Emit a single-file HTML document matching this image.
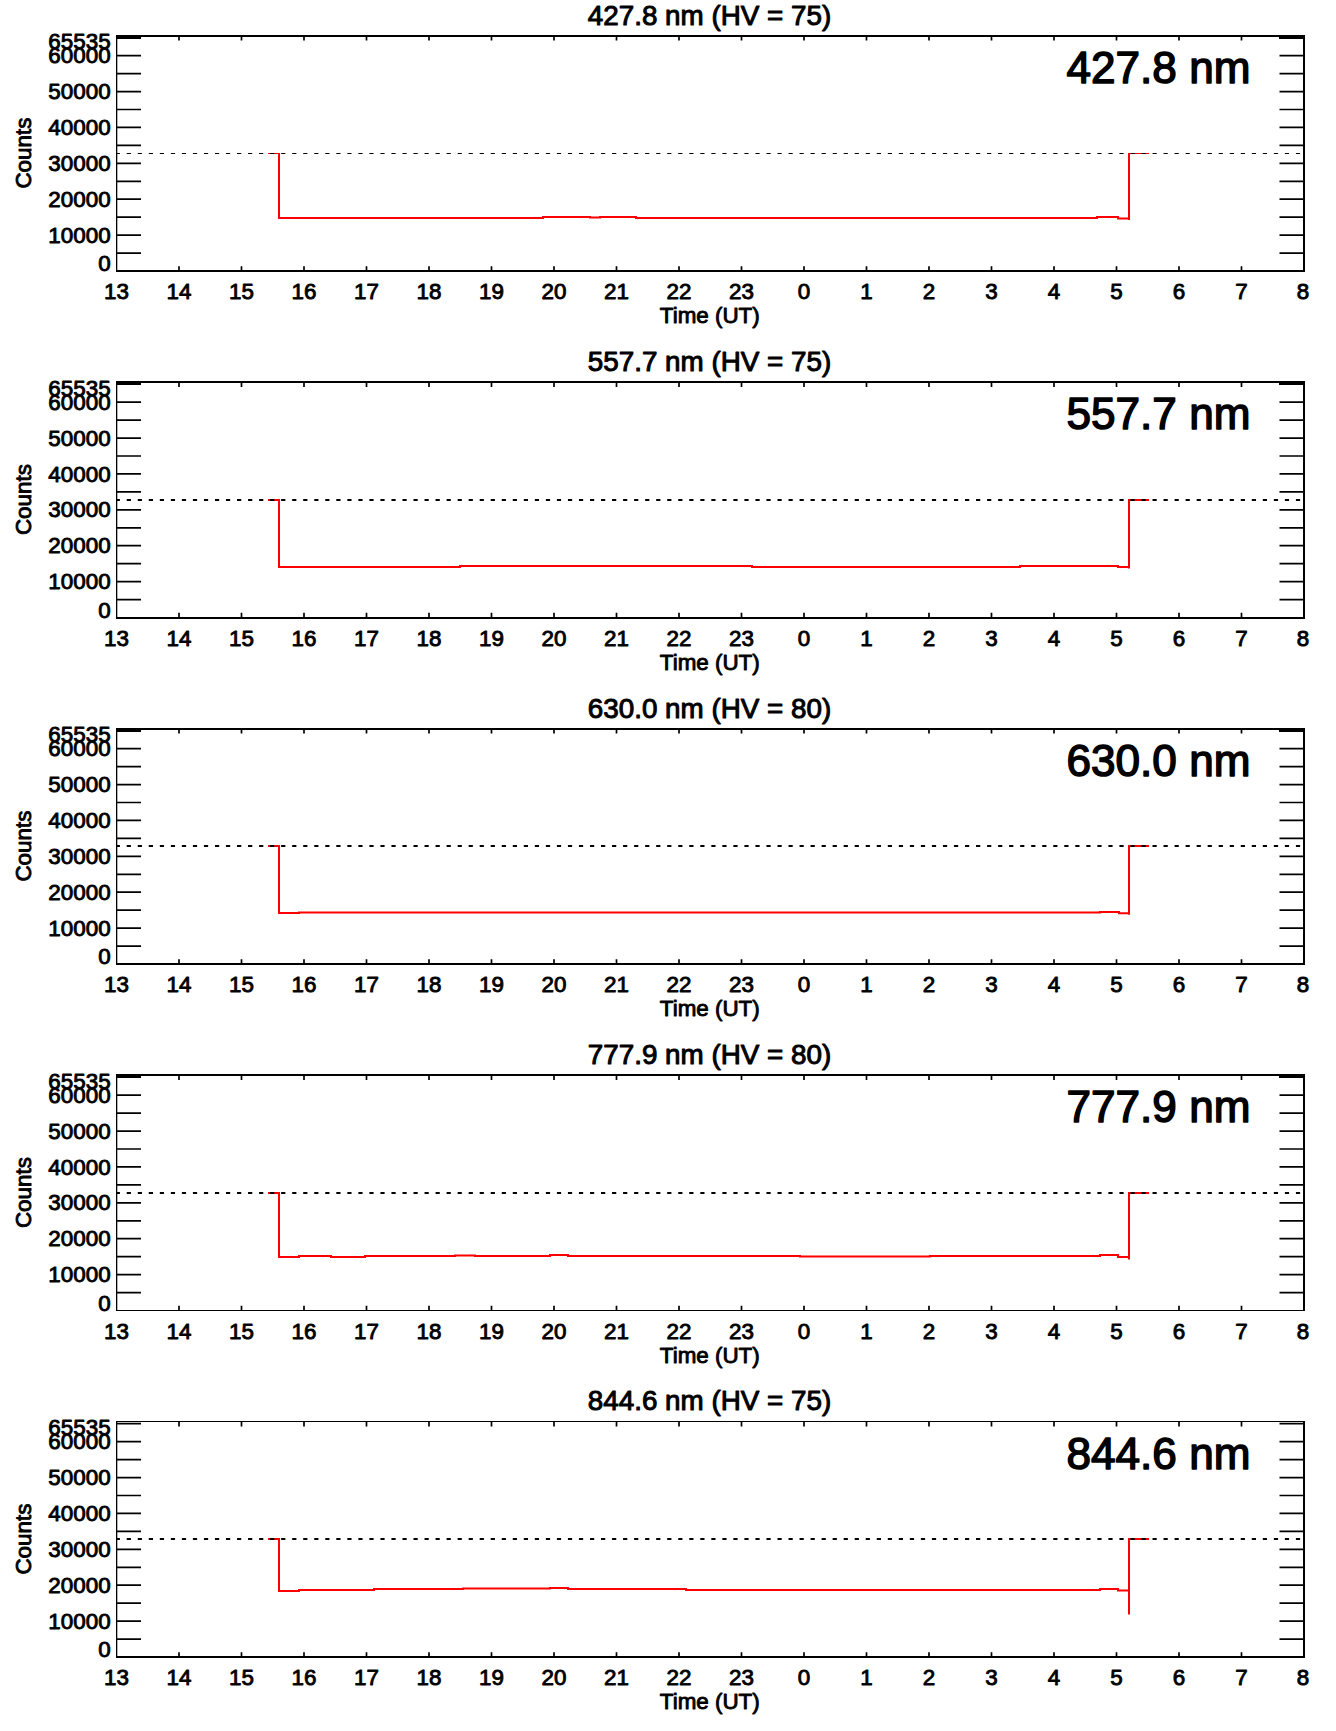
<!DOCTYPE html>
<html lang="en"><head><meta charset="utf-8"><title>Photometer counts</title>
<style>html,body{margin:0;padding:0;background:#fff}svg{display:block}text{font-family:"Liberation Sans",Helvetica,Arial,sans-serif;fill:#000;stroke:#000;stroke-linejoin:round}.t{font-size:22.4px;stroke-width:.9px}.h{font-size:27.8px;stroke-width:1px}.b{font-size:44.1px;stroke-width:1.5px}.k{stroke:#000;fill:none}</style></head><body>
<svg width="1336" height="1731" viewBox="0 0 1336 1731">
<rect width="1336" height="1731" fill="#fff"/>
<g>
<text class="h" transform="translate(709.50 25.00)" text-anchor="middle">427.8 nm (HV = 75)</text>
<path d="M279.0 153.0L279.0 218.0L543.0 218.0L543.0 217.0L590.0 217.0L590.0 217.6L600.0 217.6L600.0 217.0L636.0 217.0L636.0 218.0L1097.0 218.0L1097.0 217.0L1118.0 217.0L1118.0 218.4L1129.0 218.4L1129.0 220.0L1129.0 153.0" fill="none" stroke="#f00" stroke-width="2" stroke-linejoin="miter"/>
<path d="M268 153.5H280M1128 153.5H1149" fill="none" stroke="#f00" stroke-width="1"/>
<line x1="116.5" y1="153.5" x2="1304.0" y2="153.5" stroke="#000" stroke-width="1" stroke-dasharray="4.2 6.83" stroke-dashoffset="0.8"/>
<path class="k" d="M116.5 253.06h24.5M1304.0 253.06h-24.5M116.5 235.11h24.5M1304.0 235.11h-24.5M116.5 217.17h24.5M1304.0 217.17h-24.5M116.5 199.22h24.5M1304.0 199.22h-24.5M116.5 181.28h24.5M1304.0 181.28h-24.5M116.5 163.33h24.5M1304.0 163.33h-24.5M116.5 145.39h24.5M1304.0 145.39h-24.5M116.5 127.44h24.5M1304.0 127.44h-24.5M116.5 109.50h24.5M1304.0 109.50h-24.5M116.5 91.55h24.5M1304.0 91.55h-24.5M116.5 73.61h24.5M1304.0 73.61h-24.5M116.5 55.66h24.5M1304.0 55.66h-24.5M116.5 37.72h24.5M1304.0 37.72h-24.5" stroke-width="1.7"/>
<path class="k" d="M179.00 271.00v-4.8M179.00 35.80v4.8M241.50 271.00v-4.8M241.50 35.80v4.8M304.00 271.00v-4.8M304.00 35.80v4.8M366.50 271.00v-4.8M366.50 35.80v4.8M429.00 271.00v-4.8M429.00 35.80v4.8M491.50 271.00v-4.8M491.50 35.80v4.8M554.00 271.00v-4.8M554.00 35.80v4.8M616.50 271.00v-4.8M616.50 35.80v4.8M679.00 271.00v-4.8M679.00 35.80v4.8M741.50 271.00v-4.8M741.50 35.80v4.8M804.00 271.00v-4.8M804.00 35.80v4.8M866.50 271.00v-4.8M866.50 35.80v4.8M929.00 271.00v-4.8M929.00 35.80v4.8M991.50 271.00v-4.8M991.50 35.80v4.8M1054.00 271.00v-4.8M1054.00 35.80v4.8M1116.50 271.00v-4.8M1116.50 35.80v4.8M1179.00 271.00v-4.8M1179.00 35.80v4.8M1241.50 271.00v-4.8M1241.50 35.80v4.8" stroke-width="1.7"/>
<rect x="116" y="35" width="1.3" height="237"/>
<rect x="1303" y="35" width="2" height="237"/>
<rect x="116" y="35" width="1189" height="2"/>
<rect x="116" y="270" width="1189" height="2"/>
<rect x="116" y="35" width="25" height="4"/><rect x="1279" y="35" width="25" height="4"/>
<text class="t" transform="translate(110.60 242.71)" text-anchor="end">10000</text>
<text class="t" transform="translate(110.60 206.82)" text-anchor="end">20000</text>
<text class="t" transform="translate(110.60 170.93)" text-anchor="end">30000</text>
<text class="t" transform="translate(110.60 135.04)" text-anchor="end">40000</text>
<text class="t" transform="translate(110.60 99.15)" text-anchor="end">50000</text>
<text class="t" transform="translate(110.60 63.26)" text-anchor="end">60000</text>
<text class="t" transform="translate(110.60 271.10)" text-anchor="end">0</text>
<text class="t" transform="translate(110.60 49.20)" text-anchor="end">65535</text>
<text class="t" transform="translate(116.50 299.10)" text-anchor="middle">13</text>
<text class="t" transform="translate(179.00 299.10)" text-anchor="middle">14</text>
<text class="t" transform="translate(241.50 299.10)" text-anchor="middle">15</text>
<text class="t" transform="translate(304.00 299.10)" text-anchor="middle">16</text>
<text class="t" transform="translate(366.50 299.10)" text-anchor="middle">17</text>
<text class="t" transform="translate(429.00 299.10)" text-anchor="middle">18</text>
<text class="t" transform="translate(491.50 299.10)" text-anchor="middle">19</text>
<text class="t" transform="translate(554.00 299.10)" text-anchor="middle">20</text>
<text class="t" transform="translate(616.50 299.10)" text-anchor="middle">21</text>
<text class="t" transform="translate(679.00 299.10)" text-anchor="middle">22</text>
<text class="t" transform="translate(741.50 299.10)" text-anchor="middle">23</text>
<text class="t" transform="translate(804.00 299.10)" text-anchor="middle">0</text>
<text class="t" transform="translate(866.50 299.10)" text-anchor="middle">1</text>
<text class="t" transform="translate(929.00 299.10)" text-anchor="middle">2</text>
<text class="t" transform="translate(991.50 299.10)" text-anchor="middle">3</text>
<text class="t" transform="translate(1054.00 299.10)" text-anchor="middle">4</text>
<text class="t" transform="translate(1116.50 299.10)" text-anchor="middle">5</text>
<text class="t" transform="translate(1179.00 299.10)" text-anchor="middle">6</text>
<text class="t" transform="translate(1241.50 299.10)" text-anchor="middle">7</text>
<text class="t" transform="translate(1303.00 299.10)" text-anchor="middle">8</text>
<text class="t" transform="translate(709.80 323.20)" text-anchor="middle">Time (UT)</text>
<text class="t" transform="translate(31.40 153.10) rotate(-90)" text-anchor="middle">Counts</text>
<text class="b" transform="translate(1250.40 82.60)" text-anchor="end">427.8 nm</text>
</g>
<g>
<text class="h" transform="translate(709.50 371.25)" text-anchor="middle">557.7 nm (HV = 75)</text>
<path d="M279.0 499.0L279.0 567.0L460.0 567.0L460.0 566.0L752.0 566.0L752.0 567.0L1020.0 567.0L1020.0 566.0L1118.0 566.0L1118.0 567.0L1129.0 567.0L1129.0 568.5L1129.0 499.0" fill="none" stroke="#f00" stroke-width="2" stroke-linejoin="miter"/>
<path d="M268 500.0H280M1128 500.0H1149" fill="none" stroke="#f00" stroke-width="2"/>
<line x1="116.5" y1="500.0" x2="1304.0" y2="500.0" stroke="#000" stroke-width="2" stroke-dasharray="4.2 6.83" stroke-dashoffset="0.8"/>
<path class="k" d="M116.5 599.56h24.5M1304.0 599.56h-24.5M116.5 581.61h24.5M1304.0 581.61h-24.5M116.5 563.67h24.5M1304.0 563.67h-24.5M116.5 545.72h24.5M1304.0 545.72h-24.5M116.5 527.78h24.5M1304.0 527.78h-24.5M116.5 509.83h24.5M1304.0 509.83h-24.5M116.5 491.89h24.5M1304.0 491.89h-24.5M116.5 473.94h24.5M1304.0 473.94h-24.5M116.5 456.00h24.5M1304.0 456.00h-24.5M116.5 438.05h24.5M1304.0 438.05h-24.5M116.5 420.11h24.5M1304.0 420.11h-24.5M116.5 402.16h24.5M1304.0 402.16h-24.5M116.5 384.22h24.5M1304.0 384.22h-24.5" stroke-width="1.7"/>
<path class="k" d="M179.00 617.50v-4.8M179.00 382.30v4.8M241.50 617.50v-4.8M241.50 382.30v4.8M304.00 617.50v-4.8M304.00 382.30v4.8M366.50 617.50v-4.8M366.50 382.30v4.8M429.00 617.50v-4.8M429.00 382.30v4.8M491.50 617.50v-4.8M491.50 382.30v4.8M554.00 617.50v-4.8M554.00 382.30v4.8M616.50 617.50v-4.8M616.50 382.30v4.8M679.00 617.50v-4.8M679.00 382.30v4.8M741.50 617.50v-4.8M741.50 382.30v4.8M804.00 617.50v-4.8M804.00 382.30v4.8M866.50 617.50v-4.8M866.50 382.30v4.8M929.00 617.50v-4.8M929.00 382.30v4.8M991.50 617.50v-4.8M991.50 382.30v4.8M1054.00 617.50v-4.8M1054.00 382.30v4.8M1116.50 617.50v-4.8M1116.50 382.30v4.8M1179.00 617.50v-4.8M1179.00 382.30v4.8M1241.50 617.50v-4.8M1241.50 382.30v4.8" stroke-width="1.7"/>
<rect x="116" y="381" width="1.3" height="238"/>
<rect x="1303" y="381" width="2" height="238"/>
<rect x="116" y="381" width="1189" height="2"/>
<rect x="116" y="617" width="1189" height="2"/>
<rect x="116" y="381" width="25" height="4"/><rect x="1279" y="381" width="25" height="4"/>
<text class="t" transform="translate(110.60 589.21)" text-anchor="end">10000</text>
<text class="t" transform="translate(110.60 553.32)" text-anchor="end">20000</text>
<text class="t" transform="translate(110.60 517.43)" text-anchor="end">30000</text>
<text class="t" transform="translate(110.60 481.54)" text-anchor="end">40000</text>
<text class="t" transform="translate(110.60 445.65)" text-anchor="end">50000</text>
<text class="t" transform="translate(110.60 409.76)" text-anchor="end">60000</text>
<text class="t" transform="translate(110.60 617.60)" text-anchor="end">0</text>
<text class="t" transform="translate(110.60 395.70)" text-anchor="end">65535</text>
<text class="t" transform="translate(116.50 645.60)" text-anchor="middle">13</text>
<text class="t" transform="translate(179.00 645.60)" text-anchor="middle">14</text>
<text class="t" transform="translate(241.50 645.60)" text-anchor="middle">15</text>
<text class="t" transform="translate(304.00 645.60)" text-anchor="middle">16</text>
<text class="t" transform="translate(366.50 645.60)" text-anchor="middle">17</text>
<text class="t" transform="translate(429.00 645.60)" text-anchor="middle">18</text>
<text class="t" transform="translate(491.50 645.60)" text-anchor="middle">19</text>
<text class="t" transform="translate(554.00 645.60)" text-anchor="middle">20</text>
<text class="t" transform="translate(616.50 645.60)" text-anchor="middle">21</text>
<text class="t" transform="translate(679.00 645.60)" text-anchor="middle">22</text>
<text class="t" transform="translate(741.50 645.60)" text-anchor="middle">23</text>
<text class="t" transform="translate(804.00 645.60)" text-anchor="middle">0</text>
<text class="t" transform="translate(866.50 645.60)" text-anchor="middle">1</text>
<text class="t" transform="translate(929.00 645.60)" text-anchor="middle">2</text>
<text class="t" transform="translate(991.50 645.60)" text-anchor="middle">3</text>
<text class="t" transform="translate(1054.00 645.60)" text-anchor="middle">4</text>
<text class="t" transform="translate(1116.50 645.60)" text-anchor="middle">5</text>
<text class="t" transform="translate(1179.00 645.60)" text-anchor="middle">6</text>
<text class="t" transform="translate(1241.50 645.60)" text-anchor="middle">7</text>
<text class="t" transform="translate(1303.00 645.60)" text-anchor="middle">8</text>
<text class="t" transform="translate(709.80 669.70)" text-anchor="middle">Time (UT)</text>
<text class="t" transform="translate(31.40 499.60) rotate(-90)" text-anchor="middle">Counts</text>
<text class="b" transform="translate(1250.40 429.10)" text-anchor="end">557.7 nm</text>
</g>
<g>
<text class="h" transform="translate(709.50 717.50)" text-anchor="middle">630.0 nm (HV = 80)</text>
<path d="M279.0 845.0L279.0 913.0L299.0 913.0L299.0 912.6L1100.0 912.6L1100.0 912.0L1119.0 912.0L1119.0 913.3L1129.0 913.3L1129.0 914.7L1129.0 845.0" fill="none" stroke="#f00" stroke-width="2" stroke-linejoin="miter"/>
<path d="M268 846.0H280M1128 846.0H1149" fill="none" stroke="#f00" stroke-width="2"/>
<line x1="116.5" y1="846.0" x2="1304.0" y2="846.0" stroke="#000" stroke-width="2" stroke-dasharray="4.2 6.83" stroke-dashoffset="0.8"/>
<path class="k" d="M116.5 946.06h24.5M1304.0 946.06h-24.5M116.5 928.11h24.5M1304.0 928.11h-24.5M116.5 910.17h24.5M1304.0 910.17h-24.5M116.5 892.22h24.5M1304.0 892.22h-24.5M116.5 874.28h24.5M1304.0 874.28h-24.5M116.5 856.33h24.5M1304.0 856.33h-24.5M116.5 838.39h24.5M1304.0 838.39h-24.5M116.5 820.44h24.5M1304.0 820.44h-24.5M116.5 802.50h24.5M1304.0 802.50h-24.5M116.5 784.55h24.5M1304.0 784.55h-24.5M116.5 766.61h24.5M1304.0 766.61h-24.5M116.5 748.66h24.5M1304.0 748.66h-24.5M116.5 730.72h24.5M1304.0 730.72h-24.5" stroke-width="1.7"/>
<path class="k" d="M179.00 964.00v-4.8M179.00 728.80v4.8M241.50 964.00v-4.8M241.50 728.80v4.8M304.00 964.00v-4.8M304.00 728.80v4.8M366.50 964.00v-4.8M366.50 728.80v4.8M429.00 964.00v-4.8M429.00 728.80v4.8M491.50 964.00v-4.8M491.50 728.80v4.8M554.00 964.00v-4.8M554.00 728.80v4.8M616.50 964.00v-4.8M616.50 728.80v4.8M679.00 964.00v-4.8M679.00 728.80v4.8M741.50 964.00v-4.8M741.50 728.80v4.8M804.00 964.00v-4.8M804.00 728.80v4.8M866.50 964.00v-4.8M866.50 728.80v4.8M929.00 964.00v-4.8M929.00 728.80v4.8M991.50 964.00v-4.8M991.50 728.80v4.8M1054.00 964.00v-4.8M1054.00 728.80v4.8M1116.50 964.00v-4.8M1116.50 728.80v4.8M1179.00 964.00v-4.8M1179.00 728.80v4.8M1241.50 964.00v-4.8M1241.50 728.80v4.8" stroke-width="1.7"/>
<rect x="116" y="728" width="1.3" height="237"/>
<rect x="1303" y="728" width="2" height="237"/>
<rect x="116" y="728" width="1189" height="2"/>
<rect x="116" y="963" width="1189" height="2"/>
<rect x="116" y="728" width="25" height="4"/><rect x="1279" y="728" width="25" height="4"/>
<text class="t" transform="translate(110.60 935.71)" text-anchor="end">10000</text>
<text class="t" transform="translate(110.60 899.82)" text-anchor="end">20000</text>
<text class="t" transform="translate(110.60 863.93)" text-anchor="end">30000</text>
<text class="t" transform="translate(110.60 828.04)" text-anchor="end">40000</text>
<text class="t" transform="translate(110.60 792.15)" text-anchor="end">50000</text>
<text class="t" transform="translate(110.60 756.26)" text-anchor="end">60000</text>
<text class="t" transform="translate(110.60 964.10)" text-anchor="end">0</text>
<text class="t" transform="translate(110.60 742.20)" text-anchor="end">65535</text>
<text class="t" transform="translate(116.50 992.10)" text-anchor="middle">13</text>
<text class="t" transform="translate(179.00 992.10)" text-anchor="middle">14</text>
<text class="t" transform="translate(241.50 992.10)" text-anchor="middle">15</text>
<text class="t" transform="translate(304.00 992.10)" text-anchor="middle">16</text>
<text class="t" transform="translate(366.50 992.10)" text-anchor="middle">17</text>
<text class="t" transform="translate(429.00 992.10)" text-anchor="middle">18</text>
<text class="t" transform="translate(491.50 992.10)" text-anchor="middle">19</text>
<text class="t" transform="translate(554.00 992.10)" text-anchor="middle">20</text>
<text class="t" transform="translate(616.50 992.10)" text-anchor="middle">21</text>
<text class="t" transform="translate(679.00 992.10)" text-anchor="middle">22</text>
<text class="t" transform="translate(741.50 992.10)" text-anchor="middle">23</text>
<text class="t" transform="translate(804.00 992.10)" text-anchor="middle">0</text>
<text class="t" transform="translate(866.50 992.10)" text-anchor="middle">1</text>
<text class="t" transform="translate(929.00 992.10)" text-anchor="middle">2</text>
<text class="t" transform="translate(991.50 992.10)" text-anchor="middle">3</text>
<text class="t" transform="translate(1054.00 992.10)" text-anchor="middle">4</text>
<text class="t" transform="translate(1116.50 992.10)" text-anchor="middle">5</text>
<text class="t" transform="translate(1179.00 992.10)" text-anchor="middle">6</text>
<text class="t" transform="translate(1241.50 992.10)" text-anchor="middle">7</text>
<text class="t" transform="translate(1303.00 992.10)" text-anchor="middle">8</text>
<text class="t" transform="translate(709.80 1016.20)" text-anchor="middle">Time (UT)</text>
<text class="t" transform="translate(31.40 846.10) rotate(-90)" text-anchor="middle">Counts</text>
<text class="b" transform="translate(1250.40 775.60)" text-anchor="end">630.0 nm</text>
</g>
<g>
<text class="h" transform="translate(709.50 1063.75)" text-anchor="middle">777.9 nm (HV = 80)</text>
<path d="M279.0 1192.0L279.0 1257.0L299.0 1257.0L299.0 1256.0L331.0 1256.0L331.0 1257.0L365.0 1257.0L365.0 1256.0L455.0 1256.0L455.0 1255.4L475.0 1255.4L475.0 1256.0L550.0 1256.0L550.0 1255.0L568.0 1255.0L568.0 1256.0L800.0 1256.0L800.0 1256.5L930.0 1256.5L930.0 1256.0L1100.0 1256.0L1100.0 1255.0L1118.0 1255.0L1118.0 1257.0L1129.0 1257.0L1129.0 1259.5L1129.0 1192.0" fill="none" stroke="#f00" stroke-width="2" stroke-linejoin="miter"/>
<path d="M268 1193.0H280M1128 1193.0H1149" fill="none" stroke="#f00" stroke-width="2"/>
<line x1="116.5" y1="1193.0" x2="1304.0" y2="1193.0" stroke="#000" stroke-width="2" stroke-dasharray="4.2 6.83" stroke-dashoffset="0.8"/>
<path class="k" d="M116.5 1292.56h24.5M1304.0 1292.56h-24.5M116.5 1274.61h24.5M1304.0 1274.61h-24.5M116.5 1256.67h24.5M1304.0 1256.67h-24.5M116.5 1238.72h24.5M1304.0 1238.72h-24.5M116.5 1220.78h24.5M1304.0 1220.78h-24.5M116.5 1202.83h24.5M1304.0 1202.83h-24.5M116.5 1184.89h24.5M1304.0 1184.89h-24.5M116.5 1166.94h24.5M1304.0 1166.94h-24.5M116.5 1149.00h24.5M1304.0 1149.00h-24.5M116.5 1131.05h24.5M1304.0 1131.05h-24.5M116.5 1113.11h24.5M1304.0 1113.11h-24.5M116.5 1095.16h24.5M1304.0 1095.16h-24.5M116.5 1077.22h24.5M1304.0 1077.22h-24.5" stroke-width="1.7"/>
<path class="k" d="M179.00 1310.50v-4.8M179.00 1075.30v4.8M241.50 1310.50v-4.8M241.50 1075.30v4.8M304.00 1310.50v-4.8M304.00 1075.30v4.8M366.50 1310.50v-4.8M366.50 1075.30v4.8M429.00 1310.50v-4.8M429.00 1075.30v4.8M491.50 1310.50v-4.8M491.50 1075.30v4.8M554.00 1310.50v-4.8M554.00 1075.30v4.8M616.50 1310.50v-4.8M616.50 1075.30v4.8M679.00 1310.50v-4.8M679.00 1075.30v4.8M741.50 1310.50v-4.8M741.50 1075.30v4.8M804.00 1310.50v-4.8M804.00 1075.30v4.8M866.50 1310.50v-4.8M866.50 1075.30v4.8M929.00 1310.50v-4.8M929.00 1075.30v4.8M991.50 1310.50v-4.8M991.50 1075.30v4.8M1054.00 1310.50v-4.8M1054.00 1075.30v4.8M1116.50 1310.50v-4.8M1116.50 1075.30v4.8M1179.00 1310.50v-4.8M1179.00 1075.30v4.8M1241.50 1310.50v-4.8M1241.50 1075.30v4.8" stroke-width="1.7"/>
<rect x="116" y="1074" width="1.3" height="237"/>
<rect x="1303" y="1074" width="2" height="237"/>
<rect x="116" y="1074" width="1189" height="2"/>
<rect x="116" y="1310" width="1189" height="1"/>
<rect x="116" y="1074" width="25" height="4"/><rect x="1279" y="1074" width="25" height="4"/>
<text class="t" transform="translate(110.60 1282.21)" text-anchor="end">10000</text>
<text class="t" transform="translate(110.60 1246.32)" text-anchor="end">20000</text>
<text class="t" transform="translate(110.60 1210.43)" text-anchor="end">30000</text>
<text class="t" transform="translate(110.60 1174.54)" text-anchor="end">40000</text>
<text class="t" transform="translate(110.60 1138.65)" text-anchor="end">50000</text>
<text class="t" transform="translate(110.60 1102.76)" text-anchor="end">60000</text>
<text class="t" transform="translate(110.60 1310.60)" text-anchor="end">0</text>
<text class="t" transform="translate(110.60 1088.70)" text-anchor="end">65535</text>
<text class="t" transform="translate(116.50 1338.60)" text-anchor="middle">13</text>
<text class="t" transform="translate(179.00 1338.60)" text-anchor="middle">14</text>
<text class="t" transform="translate(241.50 1338.60)" text-anchor="middle">15</text>
<text class="t" transform="translate(304.00 1338.60)" text-anchor="middle">16</text>
<text class="t" transform="translate(366.50 1338.60)" text-anchor="middle">17</text>
<text class="t" transform="translate(429.00 1338.60)" text-anchor="middle">18</text>
<text class="t" transform="translate(491.50 1338.60)" text-anchor="middle">19</text>
<text class="t" transform="translate(554.00 1338.60)" text-anchor="middle">20</text>
<text class="t" transform="translate(616.50 1338.60)" text-anchor="middle">21</text>
<text class="t" transform="translate(679.00 1338.60)" text-anchor="middle">22</text>
<text class="t" transform="translate(741.50 1338.60)" text-anchor="middle">23</text>
<text class="t" transform="translate(804.00 1338.60)" text-anchor="middle">0</text>
<text class="t" transform="translate(866.50 1338.60)" text-anchor="middle">1</text>
<text class="t" transform="translate(929.00 1338.60)" text-anchor="middle">2</text>
<text class="t" transform="translate(991.50 1338.60)" text-anchor="middle">3</text>
<text class="t" transform="translate(1054.00 1338.60)" text-anchor="middle">4</text>
<text class="t" transform="translate(1116.50 1338.60)" text-anchor="middle">5</text>
<text class="t" transform="translate(1179.00 1338.60)" text-anchor="middle">6</text>
<text class="t" transform="translate(1241.50 1338.60)" text-anchor="middle">7</text>
<text class="t" transform="translate(1303.00 1338.60)" text-anchor="middle">8</text>
<text class="t" transform="translate(709.80 1362.70)" text-anchor="middle">Time (UT)</text>
<text class="t" transform="translate(31.40 1192.60) rotate(-90)" text-anchor="middle">Counts</text>
<text class="b" transform="translate(1250.40 1122.10)" text-anchor="end">777.9 nm</text>
</g>
<g>
<text class="h" transform="translate(709.50 1410.00)" text-anchor="middle">844.6 nm (HV = 75)</text>
<path d="M279.0 1538.0L279.0 1591.0L299.0 1591.0L299.0 1590.0L374.0 1590.0L374.0 1589.0L463.0 1589.0L463.0 1588.5L550.0 1588.5L550.0 1588.0L568.0 1588.0L568.0 1589.0L686.0 1589.0L686.0 1590.0L1100.0 1590.0L1100.0 1589.0L1118.0 1589.0L1118.0 1590.5L1129.0 1590.5L1129.0 1614.5L1129.0 1538.0" fill="none" stroke="#f00" stroke-width="2" stroke-linejoin="miter"/>
<path d="M268 1539.0H280M1128 1539.0H1149" fill="none" stroke="#f00" stroke-width="2"/>
<line x1="116.5" y1="1539.0" x2="1304.0" y2="1539.0" stroke="#000" stroke-width="2" stroke-dasharray="4.2 6.83" stroke-dashoffset="0.8"/>
<path class="k" d="M116.5 1639.06h24.5M1304.0 1639.06h-24.5M116.5 1621.11h24.5M1304.0 1621.11h-24.5M116.5 1603.17h24.5M1304.0 1603.17h-24.5M116.5 1585.22h24.5M1304.0 1585.22h-24.5M116.5 1567.28h24.5M1304.0 1567.28h-24.5M116.5 1549.33h24.5M1304.0 1549.33h-24.5M116.5 1531.39h24.5M1304.0 1531.39h-24.5M116.5 1513.44h24.5M1304.0 1513.44h-24.5M116.5 1495.50h24.5M1304.0 1495.50h-24.5M116.5 1477.55h24.5M1304.0 1477.55h-24.5M116.5 1459.61h24.5M1304.0 1459.61h-24.5M116.5 1441.66h24.5M1304.0 1441.66h-24.5M116.5 1423.72h24.5M1304.0 1423.72h-24.5" stroke-width="1.7"/>
<path class="k" d="M179.00 1657.00v-4.8M179.00 1421.80v4.8M241.50 1657.00v-4.8M241.50 1421.80v4.8M304.00 1657.00v-4.8M304.00 1421.80v4.8M366.50 1657.00v-4.8M366.50 1421.80v4.8M429.00 1657.00v-4.8M429.00 1421.80v4.8M491.50 1657.00v-4.8M491.50 1421.80v4.8M554.00 1657.00v-4.8M554.00 1421.80v4.8M616.50 1657.00v-4.8M616.50 1421.80v4.8M679.00 1657.00v-4.8M679.00 1421.80v4.8M741.50 1657.00v-4.8M741.50 1421.80v4.8M804.00 1657.00v-4.8M804.00 1421.80v4.8M866.50 1657.00v-4.8M866.50 1421.80v4.8M929.00 1657.00v-4.8M929.00 1421.80v4.8M991.50 1657.00v-4.8M991.50 1421.80v4.8M1054.00 1657.00v-4.8M1054.00 1421.80v4.8M1116.50 1657.00v-4.8M1116.50 1421.80v4.8M1179.00 1657.00v-4.8M1179.00 1421.80v4.8M1241.50 1657.00v-4.8M1241.50 1421.80v4.8" stroke-width="1.7"/>
<rect x="116" y="1421" width="1.3" height="237"/>
<rect x="1303" y="1421" width="2" height="237"/>
<rect x="116" y="1421" width="1189" height="1"/>
<rect x="116" y="1656" width="1189" height="2"/>
<text class="t" transform="translate(110.60 1628.71)" text-anchor="end">10000</text>
<text class="t" transform="translate(110.60 1592.82)" text-anchor="end">20000</text>
<text class="t" transform="translate(110.60 1556.93)" text-anchor="end">30000</text>
<text class="t" transform="translate(110.60 1521.04)" text-anchor="end">40000</text>
<text class="t" transform="translate(110.60 1485.15)" text-anchor="end">50000</text>
<text class="t" transform="translate(110.60 1449.26)" text-anchor="end">60000</text>
<text class="t" transform="translate(110.60 1657.10)" text-anchor="end">0</text>
<text class="t" transform="translate(110.60 1435.20)" text-anchor="end">65535</text>
<text class="t" transform="translate(116.50 1685.10)" text-anchor="middle">13</text>
<text class="t" transform="translate(179.00 1685.10)" text-anchor="middle">14</text>
<text class="t" transform="translate(241.50 1685.10)" text-anchor="middle">15</text>
<text class="t" transform="translate(304.00 1685.10)" text-anchor="middle">16</text>
<text class="t" transform="translate(366.50 1685.10)" text-anchor="middle">17</text>
<text class="t" transform="translate(429.00 1685.10)" text-anchor="middle">18</text>
<text class="t" transform="translate(491.50 1685.10)" text-anchor="middle">19</text>
<text class="t" transform="translate(554.00 1685.10)" text-anchor="middle">20</text>
<text class="t" transform="translate(616.50 1685.10)" text-anchor="middle">21</text>
<text class="t" transform="translate(679.00 1685.10)" text-anchor="middle">22</text>
<text class="t" transform="translate(741.50 1685.10)" text-anchor="middle">23</text>
<text class="t" transform="translate(804.00 1685.10)" text-anchor="middle">0</text>
<text class="t" transform="translate(866.50 1685.10)" text-anchor="middle">1</text>
<text class="t" transform="translate(929.00 1685.10)" text-anchor="middle">2</text>
<text class="t" transform="translate(991.50 1685.10)" text-anchor="middle">3</text>
<text class="t" transform="translate(1054.00 1685.10)" text-anchor="middle">4</text>
<text class="t" transform="translate(1116.50 1685.10)" text-anchor="middle">5</text>
<text class="t" transform="translate(1179.00 1685.10)" text-anchor="middle">6</text>
<text class="t" transform="translate(1241.50 1685.10)" text-anchor="middle">7</text>
<text class="t" transform="translate(1303.00 1685.10)" text-anchor="middle">8</text>
<text class="t" transform="translate(709.80 1709.20)" text-anchor="middle">Time (UT)</text>
<text class="t" transform="translate(31.40 1539.10) rotate(-90)" text-anchor="middle">Counts</text>
<text class="b" transform="translate(1250.40 1468.60)" text-anchor="end">844.6 nm</text>
</g>
</svg></body></html>
